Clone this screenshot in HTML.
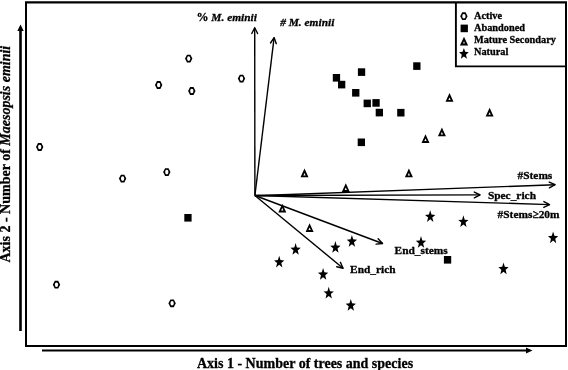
<!DOCTYPE html>
<html><head><meta charset="utf-8"><style>
html,body{margin:0;padding:0;background:#fff;width:568px;height:370px;overflow:hidden;}
svg{display:block;filter:grayscale(1);}
text{stroke:#000;stroke-width:0.3px;}
</style></head><body><svg width="568" height="370" viewBox="0 0 568 370"><path d="M26,2.35V346H566V2.35" fill="none" stroke="#000" stroke-width="2" stroke-linejoin="miter"/><line x1="25" y1="2.35" x2="567" y2="2.35" stroke="#000" stroke-width="2.3"/><polyline points="455.9,2 455.9,66.4 566,66.4" fill="none" stroke="#000" stroke-width="1.9"/><line x1="20.5" y1="331" x2="20.5" y2="30" stroke="#000" stroke-width="2.6"/><polygon points="20.5,24.5 17.3,31 23.7,31" fill="#000"/><line x1="42" y1="350.5" x2="527" y2="350.5" stroke="#000" stroke-width="2.0"/><polygon points="532.5,350.5 526,347.6 526,353.4" fill="#000"/><line x1="254.9" y1="195.5" x2="254.70" y2="27.70" stroke="#000" stroke-width="1.4"/><polyline points="257.61,33.50 254.70,27.70 251.81,33.50" fill="none" stroke="#000" stroke-width="1.4" stroke-linejoin="round" stroke-linecap="round"/><line x1="254.9" y1="195.5" x2="274.10" y2="37.60" stroke="#000" stroke-width="1.4"/><polyline points="276.28,43.71 274.10,37.60 270.52,43.01" fill="none" stroke="#000" stroke-width="1.4" stroke-linejoin="round" stroke-linecap="round"/><line x1="254.9" y1="195.8" x2="555.10" y2="184.70" stroke="#000" stroke-width="1.4"/><polyline points="549.41,187.81 555.10,184.70 549.20,182.02" fill="none" stroke="#000" stroke-width="1.4" stroke-linejoin="round" stroke-linecap="round"/><line x1="254.9" y1="195.5" x2="480.10" y2="194.90" stroke="#000" stroke-width="1.4"/><polyline points="474.31,197.82 480.10,194.90 474.29,192.02" fill="none" stroke="#000" stroke-width="1.4" stroke-linejoin="round" stroke-linecap="round"/><line x1="254.9" y1="195.5" x2="549.60" y2="204.60" stroke="#000" stroke-width="1.4"/><polyline points="543.71,207.32 549.60,204.60 543.89,201.52" fill="none" stroke="#000" stroke-width="1.4" stroke-linejoin="round" stroke-linecap="round"/><line x1="254.9" y1="195.5" x2="382.55" y2="243.50" stroke="#000" stroke-width="1.4"/><polyline points="376.10,244.17 382.55,243.50 378.14,238.74" fill="none" stroke="#000" stroke-width="1.4" stroke-linejoin="round" stroke-linecap="round"/><line x1="254.9" y1="195.5" x2="343.05" y2="268.25" stroke="#000" stroke-width="1.4"/><polyline points="336.73,266.79 343.05,268.25 340.42,262.32" fill="none" stroke="#000" stroke-width="1.4" stroke-linejoin="round" stroke-linecap="round"/><path d="M36.00,147.00L38.00,143.10L41.40,143.10L43.40,147.00L41.40,150.90L38.00,150.90ZM38.05,147.00a1.65,2.3 0 1,0 3.3,0a1.65,2.3 0 1,0 -3.3,0Z" fill="#000" fill-rule="evenodd"/><path d="M118.90,178.60L120.90,174.70L124.30,174.70L126.30,178.60L124.30,182.50L120.90,182.50ZM120.95,178.60a1.65,2.3 0 1,0 3.3,0a1.65,2.3 0 1,0 -3.3,0Z" fill="#000" fill-rule="evenodd"/><path d="M163.10,172.10L165.10,168.20L168.50,168.20L170.50,172.10L168.50,176.00L165.10,176.00ZM165.15,172.10a1.65,2.3 0 1,0 3.3,0a1.65,2.3 0 1,0 -3.3,0Z" fill="#000" fill-rule="evenodd"/><path d="M154.95,85.00L156.95,81.10L160.35,81.10L162.35,85.00L160.35,88.90L156.95,88.90ZM157.00,85.00a1.65,2.3 0 1,0 3.3,0a1.65,2.3 0 1,0 -3.3,0Z" fill="#000" fill-rule="evenodd"/><path d="M185.00,58.60L187.00,54.70L190.40,54.70L192.40,58.60L190.40,62.50L187.00,62.50ZM187.05,58.60a1.65,2.3 0 1,0 3.3,0a1.65,2.3 0 1,0 -3.3,0Z" fill="#000" fill-rule="evenodd"/><path d="M188.10,91.00L190.10,87.10L193.50,87.10L195.50,91.00L193.50,94.90L190.10,94.90ZM190.15,91.00a1.65,2.3 0 1,0 3.3,0a1.65,2.3 0 1,0 -3.3,0Z" fill="#000" fill-rule="evenodd"/><path d="M237.80,78.60L239.80,74.70L243.20,74.70L245.20,78.60L243.20,82.50L239.80,82.50ZM239.85,78.60a1.65,2.3 0 1,0 3.3,0a1.65,2.3 0 1,0 -3.3,0Z" fill="#000" fill-rule="evenodd"/><path d="M52.80,284.70L54.80,280.80L58.20,280.80L60.20,284.70L58.20,288.60L54.80,288.60ZM54.85,284.70a1.65,2.3 0 1,0 3.3,0a1.65,2.3 0 1,0 -3.3,0Z" fill="#000" fill-rule="evenodd"/><path d="M168.40,303.30L170.40,299.40L173.80,299.40L175.80,303.30L173.80,307.20L170.40,307.20ZM170.45,303.30a1.65,2.3 0 1,0 3.3,0a1.65,2.3 0 1,0 -3.3,0Z" fill="#000" fill-rule="evenodd"/><rect x="184.3" y="214.0" width="7.3" height="7.6" fill="#000"/><rect x="332.8" y="74.0" width="7.3" height="7.6" fill="#000"/><rect x="338.0" y="80.8" width="7.3" height="7.6" fill="#000"/><rect x="357.9" y="68.3" width="7.3" height="7.6" fill="#000"/><rect x="352.1" y="89.0" width="7.3" height="7.6" fill="#000"/><rect x="363.6" y="99.6" width="7.3" height="7.6" fill="#000"/><rect x="372.4" y="99.1" width="7.3" height="7.6" fill="#000"/><rect x="375.7" y="108.8" width="7.3" height="7.6" fill="#000"/><rect x="397.2" y="108.9" width="7.3" height="7.6" fill="#000"/><rect x="413.2" y="62.3" width="7.3" height="7.6" fill="#000"/><rect x="357.7" y="138.5" width="7.3" height="7.6" fill="#000"/><rect x="443.9" y="256.0" width="7.3" height="7.6" fill="#000"/><path d="M449.50,93.05L445.50,101.80L453.50,101.80Z M449.50,97.40L448.40,99.90L450.60,99.90Z" fill="#000" fill-rule="evenodd"/><path d="M489.60,107.85L485.60,116.60L493.60,116.60Z M489.60,112.20L488.50,114.70L490.70,114.70Z" fill="#000" fill-rule="evenodd"/><path d="M441.90,127.55L437.90,136.30L445.90,136.30Z M441.90,131.90L440.80,134.40L443.00,134.40Z" fill="#000" fill-rule="evenodd"/><path d="M425.50,134.25L421.50,143.00L429.50,143.00Z M425.50,138.60L424.40,141.10L426.60,141.10Z" fill="#000" fill-rule="evenodd"/><path d="M304.50,168.55L300.50,177.30L308.50,177.30Z M304.50,172.90L303.40,175.40L305.60,175.40Z" fill="#000" fill-rule="evenodd"/><path d="M408.90,168.55L404.90,177.30L412.90,177.30Z M408.90,172.90L407.80,175.40L410.00,175.40Z" fill="#000" fill-rule="evenodd"/><path d="M345.80,183.15L341.80,191.90L349.80,191.90Z M345.80,187.50L344.70,190.00L346.90,190.00Z" fill="#000" fill-rule="evenodd"/><path d="M282.30,203.75L278.30,212.50L286.30,212.50Z M282.30,208.10L281.20,210.60L283.40,210.60Z" fill="#000" fill-rule="evenodd"/><path d="M309.60,223.15L305.60,231.90L313.60,231.90Z M309.60,227.50L308.50,230.00L310.70,230.00Z" fill="#000" fill-rule="evenodd"/><polygon points="295.60,243.10 296.90,247.44 300.74,247.84 297.71,250.42 298.77,254.86 295.60,252.26 292.43,254.86 293.49,250.42 290.46,247.84 294.30,247.44" fill="#000"/><polygon points="335.40,241.10 336.70,245.44 340.54,245.84 337.51,248.42 338.57,252.86 335.40,250.26 332.23,252.86 333.29,248.42 330.26,245.84 334.10,245.44" fill="#000"/><polygon points="351.90,235.00 353.20,239.34 357.04,239.75 354.01,242.32 355.07,246.76 351.90,244.16 348.73,246.76 349.79,242.32 346.76,239.75 350.60,239.34" fill="#000"/><polygon points="279.20,255.70 280.50,260.04 284.34,260.44 281.31,263.02 282.37,267.46 279.20,264.87 276.03,267.46 277.09,263.02 274.06,260.44 277.90,260.04" fill="#000"/><polygon points="323.10,268.00 324.40,272.34 328.24,272.75 325.21,275.32 326.27,279.76 323.10,277.17 319.93,279.76 320.99,275.32 317.96,272.75 321.80,272.34" fill="#000"/><polygon points="328.70,286.80 330.00,291.14 333.84,291.55 330.81,294.12 331.87,298.56 328.70,295.97 325.53,298.56 326.59,294.12 323.56,291.55 327.40,291.14" fill="#000"/><polygon points="350.80,299.00 352.10,303.34 355.94,303.75 352.91,306.32 353.97,310.76 350.80,308.17 347.63,310.76 348.69,306.32 345.66,303.75 349.50,303.34" fill="#000"/><polygon points="430.20,210.20 431.50,214.54 435.34,214.94 432.31,217.52 433.37,221.96 430.20,219.36 427.03,221.96 428.09,217.52 425.06,214.94 428.90,214.54" fill="#000"/><polygon points="463.40,215.30 464.70,219.64 468.54,220.05 465.51,222.62 466.57,227.06 463.40,224.47 460.23,227.06 461.29,222.62 458.26,220.05 462.10,219.64" fill="#000"/><polygon points="553.10,231.40 554.40,235.74 558.24,236.15 555.21,238.72 556.27,243.16 553.10,240.56 549.93,243.16 550.99,238.72 547.96,236.15 551.80,235.74" fill="#000"/><polygon points="421.00,236.10 422.30,240.44 426.14,240.84 423.11,243.42 424.17,247.86 421.00,245.26 417.83,247.86 418.89,243.42 415.86,240.84 419.70,240.44" fill="#000"/><polygon points="503.50,262.50 504.80,266.84 508.64,267.25 505.61,269.82 506.67,274.26 503.50,271.67 500.33,274.26 501.39,269.82 498.36,267.25 502.20,266.84" fill="#000"/><path d="M460.20,16.20L462.20,12.30L465.60,12.30L467.60,16.20L465.60,20.10L462.20,20.10ZM462.25,16.20a1.65,2.3 0 1,0 3.3,0a1.65,2.3 0 1,0 -3.3,0Z" fill="#000" fill-rule="evenodd"/><rect x="460.6" y="24.6" width="7.3" height="7.6" fill="#000"/><path d="M464.00,36.65L459.90,45.40L468.10,45.40Z M464.00,41.11L463.20,43.50L464.80,43.50Z" fill="#000" fill-rule="evenodd"/><polygon points="463.90,47.90 465.19,51.81 468.75,52.28 465.99,54.70 466.90,58.75 463.90,56.48 460.90,58.75 461.81,54.70 459.05,52.28 462.61,51.81" fill="#000"/><text x="474.0" y="18.65" font-family="Liberation Serif" font-weight="bold" font-size="10.3">Active</text><text x="474.0" y="30.90" font-family="Liberation Serif" font-weight="bold" font-size="10.3">Abandoned</text><text x="474.0" y="43.15" font-family="Liberation Serif" font-weight="bold" font-size="10.3">Mature Secondary</text><text x="474.0" y="55.40" font-family="Liberation Serif" font-weight="bold" font-size="10.3">Natural</text><text x="196.5" y="21.2" font-family="Liberation Serif" font-weight="bold" font-style="italic" font-size="11.4"><tspan font-style="normal" font-size="12">%</tspan> M. eminii</text><text x="280.2" y="26.4" font-family="Liberation Serif" font-weight="bold" font-style="italic" font-size="11.4"># M. eminii</text><text x="517.5" y="179.3" font-family="Liberation Serif" font-weight="bold" font-size="11.4">#Stems</text><text x="487.9" y="198.8" font-family="Liberation Serif" font-weight="bold" font-size="11.4">Spec_rich</text><text x="497.6" y="217.7" font-family="Liberation Serif" font-weight="bold" font-size="11.4">#Stems≥20m</text><text x="394.6" y="253.5" font-family="Liberation Serif" font-weight="bold" font-size="11.4">End_stems</text><text x="350.1" y="273" font-family="Liberation Serif" font-weight="bold" font-size="11.4">End_rich</text><text x="197" y="367.7" font-family="Liberation Serif" font-weight="bold" font-size="14">Axis 1 - Number of trees and species</text><text transform="translate(9.6,262.5) rotate(-90)" font-family="Liberation Serif" font-weight="bold" font-size="14">Axis 2 - Number of <tspan font-style="italic">Maesopsis eminii</tspan></text></svg></body></html>
